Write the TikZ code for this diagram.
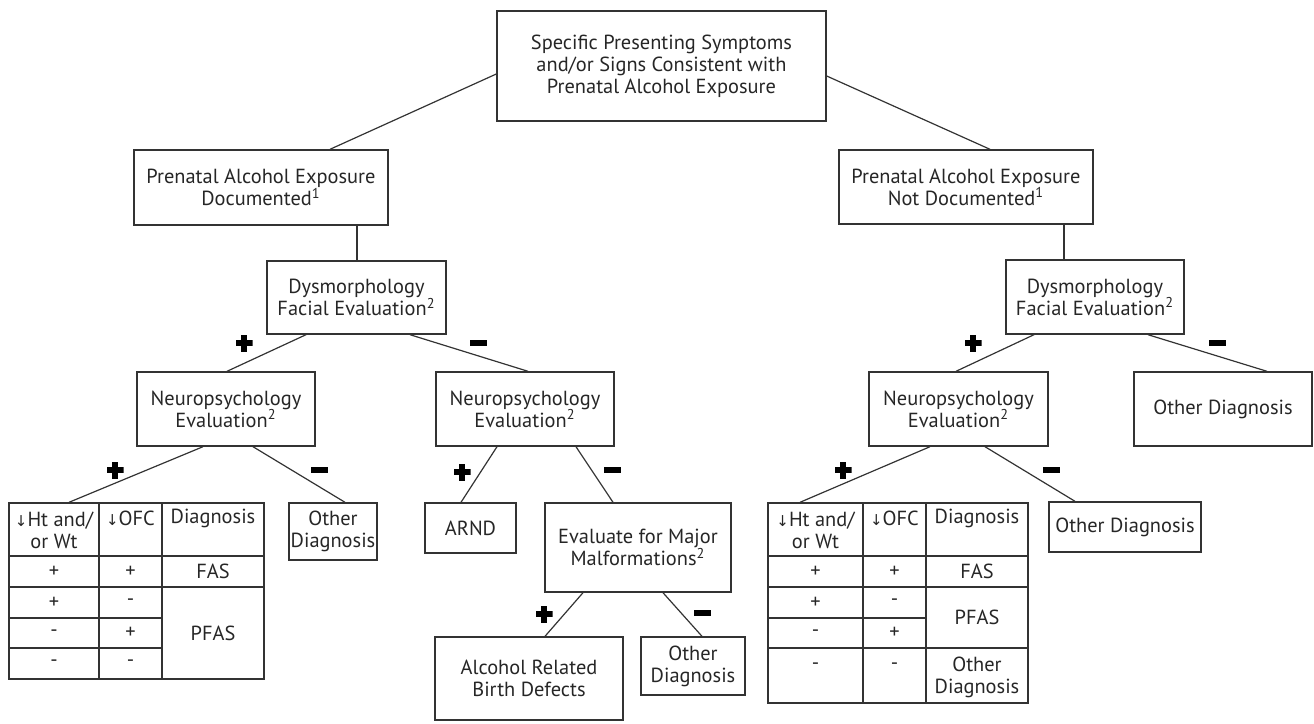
\documentclass[tikz,border=0pt]{standalone}
\usepackage{fontspec}
\setmainfont{PT Sans}
\newfontfamily\arrowfont{DejaVu Sans}
\newcommand{\dn}{{\arrowfont\fontsize{7.5}{8}\selectfont ↓}}
\tikzset{
    box/.style={draw=black!80, line width=0.7pt, align=center, inner sep=0pt,
        font=\fontsize{10.2}{11}\selectfont, text=black!85},
    cell/.style={align=center, inner sep=0pt, font=\fontsize{10.2}{11}\selectfont, text=black!85},
    conn/.style={draw=black!80, line width=0.6pt},
    minussign/.style={fill=black, minimum width=8.5pt, minimum height=2.8pt, inner sep=0pt},
    plussign/.style={minimum size=8.5pt, inner sep=0pt,
        path picture={
            \fill[black] ([xshift=-4.25pt,yshift=-1.4pt]path picture bounding box.center) rectangle ([xshift=4.25pt,yshift=1.4pt]path picture bounding box.center);
            \fill[black] ([xshift=-1.4pt,yshift=-4.25pt]path picture bounding box.center) rectangle ([xshift=1.4pt,yshift=4.25pt]path picture bounding box.center);
        }}
}
\begin{document}
\begin{tikzpicture}[x=0.5pt,y=-0.5pt]
            \useasboundingbox (0,0) rectangle (1314,724);

            \node[box, minimum width=164.5pt, minimum height=55pt] (symp) at (661.5,66) {Specific Presenting Symptoms\\and/or Signs Consistent with\\Prenatal Alcohol Exposure};
            \node[box, minimum width=127pt, minimum height=37.5pt] (docu) at (261,187.5) {Prenatal Alcohol Exposure\\Documented\textsuperscript{1}};
            \node[box, minimum width=127pt, minimum height=37pt] (notdocu) at (966,187) {Prenatal Alcohol Exposure\\Not Documented\textsuperscript{1}};
            \node[box, minimum width=89.5pt, minimum height=36.5pt] (dysL) at (356.5,297.5) {Dysmorphology\\Facial Evaluation\textsuperscript{2}};
            \node[box, minimum width=89pt, minimum height=37pt] (dysR) at (1095,297) {Dysmorphology\\Facial Evaluation\textsuperscript{2}};
            \node[box, minimum width=89pt, minimum height=37pt] (neuL) at (226,409) {Neuropsychology\\Evaluation\textsuperscript{2}};
            \node[box, minimum width=89pt, minimum height=37pt] (neuM) at (525,409) {Neuropsychology\\Evaluation\textsuperscript{2}};
            \node[box, minimum width=89.5pt, minimum height=37pt] (neuR) at (958.5,409) {Neuropsychology\\Evaluation\textsuperscript{2}};
            \node[box, minimum width=89pt, minimum height=37pt] (otherA) at (1223,409) {Other Diagnosis};
            \node[box, minimum width=44pt, minimum height=28.5pt] (otherL) at (333,531.5) {Other\\Diagnosis};
            \node[box, minimum width=45.5pt, minimum height=25pt] (arnd) at (470.5,528) {ARND};
            \node[box, minimum width=93pt, minimum height=44.5pt] (evalM) at (638,547.5) {Evaluate for Major\\Malformations\textsuperscript{2}};
            \node[box, minimum width=94pt, minimum height=41.5pt] (arbd) at (529,678.5) {Alcohol Related\\Birth Defects};
            \node[box, minimum width=52pt, minimum height=29pt] (otherM) at (693,666) {Other\\Diagnosis};
            \node[box, minimum width=76pt, minimum height=25pt] (otherB) at (1125,527) {Other Diagnosis};

            \node[box, minimum width=127.5pt, minimum height=88pt] (tabL) at (136.5,591) {};
            \draw[conn, line width=0.7pt] (99,503) -- (99,679);
            \draw[conn, line width=0.7pt] (162,503) -- (162,679);
            \draw[conn, line width=0.7pt] (9,556) -- (264,556);
            \draw[conn, line width=0.7pt] (9,587) -- (264,587);
            \draw[conn, line width=0.7pt] (9,618) -- (162,618);
            \draw[conn, line width=0.7pt] (9,648) -- (162,648);
            \node[cell] (hl1) at (54,530.5) {\dn Ht and/\\or Wt};
            \node[cell] (hl2) at (130.5,518) {\dn OFC};
            \node[cell] (hl3) at (213,518) {Diagnosis};
            \node[cell] (l11) at (54,571.5) {+};
            \node[cell] (l12) at (130.5,571.5) {+};
            \node[cell] (l13) at (213,571.5) {FAS};
            \node[cell] (l21) at (54,602.5) {+};
            \node[cell] (l22) at (130.5,602.5) {-};
            \node[cell] (l31) at (54,633) {-};
            \node[cell] (l32) at (130.5,633) {+};
            \node[cell] (l33) at (213,633) {PFAS};
            \node[cell] (l41) at (54,663.5) {-};
            \node[cell] (l42) at (130.5,663.5) {-};

            \node[box, minimum width=130pt, minimum height=100pt] (tabR) at (898,603) {};
            \draw[conn, line width=0.7pt] (863,503) -- (863,703);
            \draw[conn, line width=0.7pt] (926,503) -- (926,703);
            \draw[conn, line width=0.7pt] (768,556) -- (1028,556);
            \draw[conn, line width=0.7pt] (768,587) -- (1028,587);
            \draw[conn, line width=0.7pt] (768,618) -- (926,618);
            \draw[conn, line width=0.7pt] (768,648) -- (1028,648);
            \node[cell] (hr1) at (815.5,530.5) {\dn Ht and/\\or Wt};
            \node[cell] (hr2) at (894.5,518) {\dn OFC};
            \node[cell] (hr3) at (977,518) {Diagnosis};
            \node[cell] (r11) at (815.5,571.5) {+};
            \node[cell] (r12) at (894.5,571.5) {+};
            \node[cell] (r13) at (977,571.5) {FAS};
            \node[cell] (r21) at (815.5,602.5) {+};
            \node[cell] (r22) at (894.5,602.5) {-};
            \node[cell] (r31) at (815.5,633) {-};
            \node[cell] (r32) at (894.5,633) {+};
            \node[cell] (r23) at (977,617.5) {PFAS};
            \node[cell] (r41) at (815.5,666) {-};
            \node[cell] (r42) at (894.5,666) {-};
            \node[cell] (r43) at (977,677) {Other\\Diagnosis};

            \draw[conn] ([yshift=-4pt]symp.west) -- ([xshift=34.5pt]docu.north);
            \draw[conn] ([yshift=-5pt]symp.east) -- ([xshift=12pt]notdocu.north);
            \draw[conn] ([xshift=48pt]docu.south) -- ([xshift=0.25pt]dysL.north);
            \draw[conn] ([xshift=49pt]notdocu.south) -- ([xshift=-15.5pt]dysR.north);
            \draw[conn] ([xshift=-25.25pt]dysL.south) -- ([xshift=0.5pt]neuL.north);
            \draw[conn] ([xshift=26.75pt]dysL.south) -- ([xshift=1.5pt]neuM.north);
            \draw[conn] ([xshift=-30.5pt]dysR.south) -- ([xshift=-1.25pt]neuR.north);
            \draw[conn] ([xshift=26.5pt]dysR.south) -- ([xshift=22pt]otherA.north);
            \draw[conn] ([xshift=-11.5pt]neuL.south) -- ([xshift=-33.75pt]tabL.north);
            \draw[conn] ([xshift=13.5pt]neuL.south) -- ([xshift=6pt]otherL.north);
            \draw[conn] ([xshift=-14pt]neuM.south) -- ([xshift=-4.75pt]arnd.north);
            \draw[conn] ([xshift=25.5pt]neuM.south) -- ([xshift=-12.5pt]evalM.north);
            \draw[conn] ([xshift=-27.5pt]evalM.south) -- ([xshift=8pt]arbd.north);
            \draw[conn] ([xshift=12.5pt]evalM.south) -- ([xshift=4.5pt]otherM.north);
            \draw[conn] ([xshift=-14.25pt]neuR.south) -- ([xshift=-49pt]tabR.north);
            \draw[conn] ([xshift=13.25pt]neuR.south) -- ([xshift=-25pt]otherB.north);

            \node[plussign] (p1) at (244,343) {};
            \node[minussign] (m1) at (478,343) {};
            \node[plussign] (p2) at (973,343) {};
            \node[minussign] (m2) at (1217,343) {};
            \node[plussign] (p3) at (115,470) {};
            \node[minussign] (m3) at (319,470) {};
            \node[plussign] (p4) at (462,472) {};
            \node[minussign] (m4) at (612,470) {};
            \node[plussign] (p5) at (843,470) {};
            \node[minussign] (m5) at (1051,470) {};
            \node[plussign] (p6) at (544,614) {};
            \node[minussign] (m6) at (702,613) {};
\end{tikzpicture}
\end{document}
